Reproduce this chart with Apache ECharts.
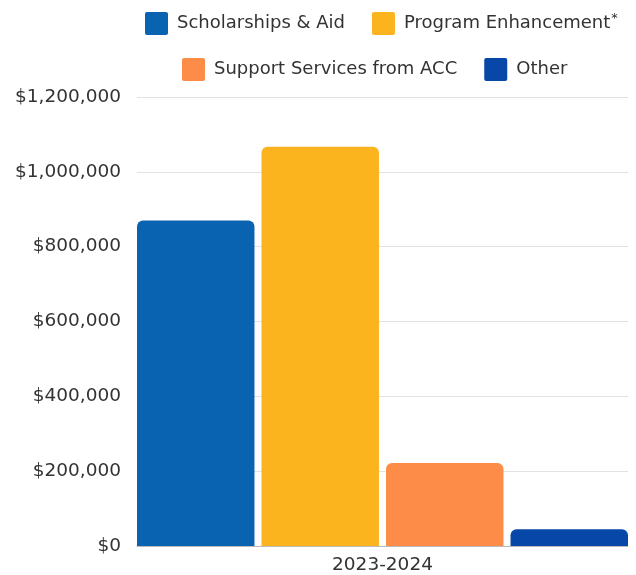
<!DOCTYPE html>
<html><head><meta charset="utf-8">
<script src="https://cdn.jsdelivr.net/npm/echarts@6/dist/echarts.min.js"></script>
<style>html,body{margin:0;padding:0;background:#fff}#c{width:636px;height:575px}</style>
</head><body><div id="c"></div>
<script>
const categories = ['2023-2024'];
const seriesNames = ['Scholarships & Aid', 'Program Enhancement*', 'Support Services from ACC', 'Other'];
const scholarships = [870000];
const programEnhancement = [1067000];
const supportServices = [222000];
const other = [45000];
const yTicks = [0, 200000, 400000, 600000, 800000, 1000000, 1200000];
const colors = ['#0963b0', '#fcb41e', '#fd8c48', '#0647a8'];

const font = 'DejaVu Sans';
const values = [scholarships, programEnhancement, supportServices, other];
const chart = echarts.init(document.getElementById('c'));
const legendBase = {
  itemWidth: 23, itemHeight: 23, itemGap: 27, padding: 0,
  icon: 'path://M2,0 L21,0 Q23,0 23,2 L23,21 Q23,23 21,23 L2,23 Q0,23 0,21 L0,2 Q0,0 2,0 Z',
  formatter: n => n.endsWith('*') ? n.slice(0, -1) + '{s|*}' : n,
  textStyle: { fontFamily: font, fontSize: 18, color: '#333', padding: [0,0,0,4],
    rich: { s: { fontFamily: font, fontSize: 13, color: '#333', padding: [0,0,10,1] } } }
};
chart.setOption({
  animation: false,
  color: colors,
  legend: [
    Object.assign({}, legendBase, { data: [seriesNames[0], seriesNames[1]], left: 145, top: 12 }),
    Object.assign({}, legendBase, { data: [seriesNames[2], seriesNames[3]], left: 182, top: 58 })
  ],
  grid: { left: 137, right: 8, top: 97, bottom: 28 },
  xAxis: {
    type: 'category', data: categories,
    axisTick: { show: false },
    axisLine: { lineStyle: { color: '#bbb' } },
    axisLabel: { fontFamily: font, fontSize: 18.5, color: '#333', margin: 10 }
  },
  yAxis: {
    type: 'value', min: yTicks[0], max: yTicks[yTicks.length - 1], interval: yTicks[1] - yTicks[0],
    axisLine: { show: false }, axisTick: { show: false },
    splitLine: { lineStyle: { color: '#e2e2e2' } },
    axisLabel: { fontFamily: font, fontSize: 18.5, color: '#333', margin: 16,
      formatter: v => '$' + v.toLocaleString('en-US') }
  },
  series: seriesNames.map((n, i) => ({
    name: n, type: 'bar', data: values[i],
    barGap: '6%', barCategoryGap: '0%',
    itemStyle: { borderRadius: [6, 6, 0, 0] }
  }))
});
</script></body></html>
